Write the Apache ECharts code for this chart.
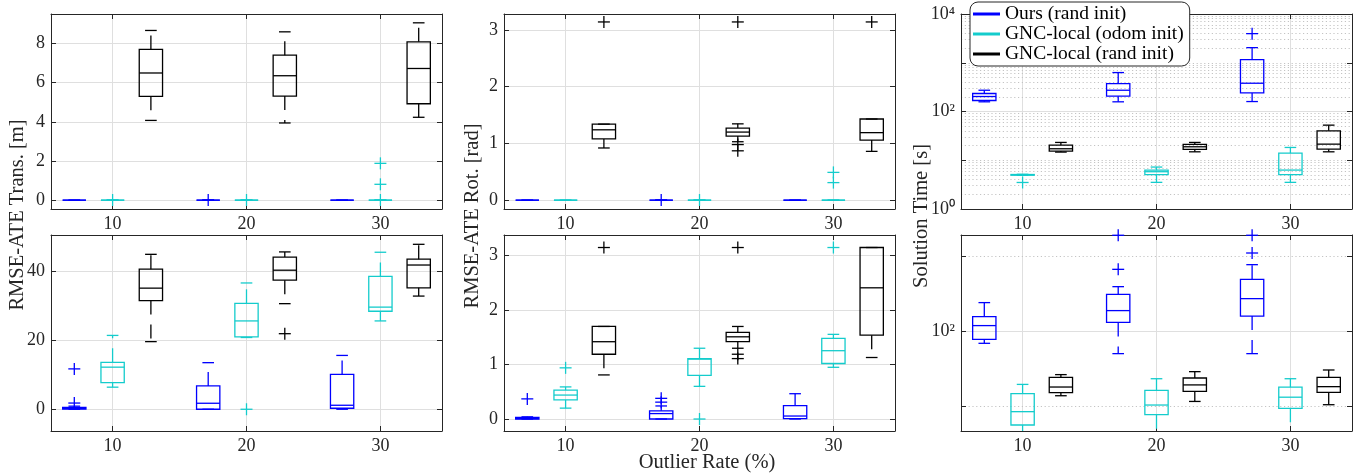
<!DOCTYPE html>
<html>
<head>
<meta charset="utf-8">
<script src="https://cdn.jsdelivr.net/npm/echarts@6/dist/echarts.min.js"></script>
<style>
  html, body { margin: 0; background: #fff; }
  #chart { width: 1369px; height: 476px; }
</style>
</head>
<body>
<div id="chart"></div>
<script>
const methods = ['Ours (rand init)', 'GNC-local (odom init)', 'GNC-local (rand init)'];
const rates = [10, 20, 30];

// box stats, one row per outlier rate (10, 20, 30):
// [lower whisker, q1, median, q3, upper whisker]
// outliers: [rate, value]

// RMSE-ATE Trans. [m], top row
const transTopOurs = [[0, 0, 0, 0, 0], [0, 0, 0, 0, 0], [0, 0, 0, 0, 0]];
const transTopOdom = [[0, 0, 0, 0, 0], [0, 0, 0, 0, 0], [0, 0, 0, 0, 0]];
const transTopRand = [[4.07, 5.30, 6.49, 7.69, 8.66], [3.94, 5.31, 6.35, 7.40, 8.59], [4.23, 4.92, 6.72, 8.08, 9.05]];
const transTopOutOurs = [[20, 0.01]];
const transTopOutOdom = [[10, 0.01], [20, 0.01], [30, 0.01], [30, 0.81], [30, 1.88]];
const transTopOutRand = [];

// RMSE-ATE Rot. [rad], top row
const rotTopOurs = [[0, 0, 0, 0, 0], [0, 0, 0, 0, 0], [0, 0, 0, 0, 0]];
const rotTopOdom = [[0, 0, 0, 0, 0], [0, 0, 0, 0, 0], [0, 0, 0, 0, 0]];
const rotTopRand = [[0.92, 1.08, 1.24, 1.34, 1.34], [1.03, 1.13, 1.20, 1.27, 1.345], [0.86, 1.06, 1.19, 1.43, 1.43]];
const rotTopOutOurs = [[20, 0.003]];
const rotTopOutOdom = [[20, 0.003], [30, 0.31], [30, 0.49]];
const rotTopOutRand = [[10, 3.14], [20, 3.14], [20, 0.98], [20, 0.87], [30, 3.14]];

// Solution Time [s], top row (log)
const timeTopOurs = [[158, 168, 203, 234, 273], [158, 206, 273, 374, 629], [160, 241, 380, 1161, 2043]];
const timeTopOdom = [[4.9, 4.95, 5.0, 5.1, 5.15], [3.52, 5.05, 5.82, 6.29, 7.25], [3.52, 5.05, 6.29, 14.0, 18.3]];
const timeTopRand = [[14.7, 15.4, 17.2, 20.5, 23.2], [14.9, 16.7, 18.9, 21.1, 23.2], [14.9, 16.9, 21.4, 40.2, 52.5]];
const timeTopOutOurs = [[30, 3956]];
const timeTopOutOdom = [[10, 3.5]];
const timeTopOutRand = [];

// RMSE-ATE Trans. [m], bottom row
const transBotOurs = [[0, 0.05, 0.25, 0.55, 0.9], [0, 0, 1.74, 6.76, 13.5], [0, 0.3, 1.16, 10.1, 15.6]];
const transBotOdom = [[6.4, 7.7, 12.2, 13.6, 21.4], [20.8, 21.0, 25.6, 30.7, 36.6], [25.6, 28.4, 29.6, 38.5, 45.5]];
const transBotRand = [[19.6, 31.5, 35.1, 40.6, 44.9], [30.6, 37.4, 40.3, 44.1, 45.6], [32.8, 35.2, 41.8, 43.5, 47.8]];
const transBotOutOurs = [[10, 1.8], [10, 11.7]];
const transBotOutOdom = [[20, 0]];
const transBotOutRand = [[20, 21.9]];

// RMSE-ATE Rot. [rad], bottom row
const rotBotOurs = [[0, 0, 0.01, 0.03, 0.04], [0, 0, 0.10, 0.15, 0.24], [0, 0.006, 0.055, 0.245, 0.465]];
const rotBotOdom = [[0.2, 0.35, 0.44, 0.53, 0.59], [0.6, 0.8, 1.10, 1.11, 1.30], [0.95, 1.02, 1.255, 1.48, 1.555]];
const rotBotRand = [[0.81, 1.19, 1.42, 1.70, 1.70], [1.30, 1.42, 1.51, 1.59, 1.70], [1.13, 1.54, 2.41, 3.15, 3.15]];
const rotBotOutOurs = [[10, 0.37], [20, 0.31], [20, 0.38]];
const rotBotOutOdom = [[10, 0.94], [20, 0], [30, 3.15]];
const rotBotOutRand = [[10, 3.15], [20, 3.15], [20, 1.19], [20, 1.11]];

// Solution Time [s], bottom row (log)
const timeBotOurs = [[68.5, 77.4, 118, 155, 239], [49.9, 130, 187, 308, 390], [49.9, 158, 270, 489, 766]];
const timeBotOdom = [[3, 5.58, 8.4, 14.6, 19.4], [3, 7.66, 10.3, 16.2, 23.1], [3, 9.3, 13.1, 17.8, 23.1]];
const timeBotRand = [[13.7, 15.1, 17.9, 24.1, 26.2], [11.5, 15.7, 19.1, 23.6, 28.7], [10.4, 15.2, 18.1, 24.1, 30.2]];
const timeBotOutOurs = [[20, 664], [20, 1890], [30, 1096], [30, 1890]];
const timeBotOutOdom = [];
const timeBotOutRand = [];

// ---- styling / layout ----
const FONT = 'Liberation Serif';
const INK = '#262626';
const GRID = '#dfdfdf';
const colors = ['#0000ff', '#14cccc', '#000000'];
const shift = [-2.86, 0, 2.86];
const W = 391;

const panels = [
  { box: [transTopOurs, transTopOdom, transTopRand], out: [transTopOutOurs, transTopOutOdom, transTopOutRand],
    left: 51, top: 14, height: 195, min: -0.45, max: 9.5, step: 2 },
  { box: [rotTopOurs, rotTopOdom, rotTopRand], out: [rotTopOutOurs, rotTopOutOdom, rotTopOutRand],
    left: 504, top: 14, height: 195, min: -0.155, max: 3.28, step: 1 },
  { box: [timeTopOurs, timeTopOdom, timeTopRand], out: [timeTopOutOurs, timeTopOutOdom, timeTopOutRand],
    left: 961, top: 14, height: 195, min: 1, max: 10000, log: true, major: [100], minor: 'all' },
  { box: [transBotOurs, transBotOdom, transBotRand], out: [transBotOutOurs, transBotOutOdom, transBotOutRand],
    left: 51, top: 235, height: 196, min: -6.3, max: 50.5, step: 20 },
  { box: [rotBotOurs, rotBotOdom, rotBotRand], out: [rotBotOutOurs, rotBotOutOdom, rotBotOutRand],
    left: 504, top: 235, height: 196, min: -0.22, max: 3.38, step: 1 },
  { box: [timeBotOurs, timeBotOdom, timeBotRand], out: [timeBotOutOurs, timeBotOutOdom, timeBotOutRand],
    left: 961, top: 235, height: 196, min: 4.64, max: 1905, log: true, major: [100], minor: [10, 1000] }
];

// minor log grid: 2..9 x 10^k plus the odd decades
function logMinor() {
  const v = [];
  [1, 10, 100, 1000].forEach(d => {
    for (let k = 2; k <= 9; k++) v.push(k * d);
  });
  return v.concat([10, 1000]);
}

const SUP = { '-1': '⁻¹', 0: '⁰', 1: '¹', 2: '²', 3: '³', 4: '⁴' };
function logLabel(v) {
  const e = Math.round(Math.log10(v));
  if (Math.abs(Math.log10(v) - e) > 1e-6 || e % 2 !== 0) return '';
  return '10' + SUP[e];
}

function drawBox(params, api) {
  const x = api.value(0);
  const color = api.visual('color');
  const y = [1, 2, 3, 4, 5].map(i => api.coord([x, api.value(i)])[1]);
  const cx = api.coord([x, api.value(3)])[0];
  const hw = api.coord([x + 0.87, api.value(3)])[0] - cx;
  const cw = hw / 2;
  const solid = { stroke: color, lineWidth: 1.3, fill: null };
  const dashed = { stroke: color, lineWidth: 1.3, lineDash: [14, 10] };
  return {
    type: 'group',
    children: [
      { type: 'line', shape: { x1: cx, y1: y[3], x2: cx, y2: y[4] }, style: dashed },
      { type: 'line', shape: { x1: cx, y1: y[1], x2: cx, y2: y[0] }, style: dashed },
      { type: 'line', shape: { x1: cx - cw, y1: y[4], x2: cx + cw, y2: y[4] }, style: solid },
      { type: 'line', shape: { x1: cx - cw, y1: y[0], x2: cx + cw, y2: y[0] }, style: solid },
      { type: 'rect', shape: { x: cx - hw, y: y[3], width: 2 * hw, height: y[1] - y[3] },
        style: { stroke: color, fill: 'none', lineWidth: 1.3 } },
      { type: 'line', shape: { x1: cx - hw, y1: y[2], x2: cx + hw, y2: y[2] }, style: solid }
    ]
  };
}

function drawPlus(params, api) {
  const p = api.coord([api.value(0), api.value(1)]);
  const color = api.visual('color');
  const s = 6;
  const st = { stroke: color, lineWidth: 1.3 };
  return {
    type: 'group',
    children: [
      { type: 'line', shape: { x1: p[0] - s, y1: p[1], x2: p[0] + s, y2: p[1] }, style: st },
      { type: 'line', shape: { x1: p[0], y1: p[1] - s, x2: p[0], y2: p[1] + s }, style: st }
    ]
  };
}

const grid = [], xAxis = [], yAxis = [], series = [];
const tickStyle = { inside: true, length: 5, lineStyle: { color: INK } };
const lineStyle = { show: true, onZero: false, lineStyle: { color: INK, width: 1 } };
const labelFont = { color: INK, fontFamily: FONT, fontSize: 18 };

panels.forEach((p, i) => {
  grid.push({ left: p.left, top: p.top, width: W, height: p.height });
  const xBase = {
    gridIndex: i, type: 'value', min: 5.4, max: 34.6, minInterval: 10, maxInterval: 10,
    axisLine: lineStyle, axisTick: tickStyle
  };
  xAxis.push(Object.assign({}, xBase, {
    position: 'bottom',
    axisLabel: Object.assign({ showMinLabel: false, showMaxLabel: false, margin: 6 }, labelFont),
    splitLine: { show: true, lineStyle: { color: GRID } }
  }));
  xAxis.push(Object.assign({}, xBase, { position: 'top', axisLabel: { show: false }, splitLine: { show: false } }));

  const yBase = p.log
    ? { gridIndex: i, type: 'log', logBase: 10, min: p.min, max: p.max }
    : { gridIndex: i, type: 'value', min: p.min, max: p.max, minInterval: p.step, maxInterval: p.step };
  Object.assign(yBase, { axisLine: lineStyle, axisTick: tickStyle });
  yAxis.push(Object.assign({}, yBase, {
    position: 'left',
    axisLabel: p.log
      ? Object.assign({ formatter: logLabel, margin: 6 }, labelFont)
      : Object.assign({ showMinLabel: false, showMaxLabel: false, margin: 6 }, labelFont),
    splitLine: { show: !p.log, lineStyle: { color: GRID } }
  }));
  yAxis.push(Object.assign({}, yBase, { position: 'right', axisLabel: { show: false }, splitLine: { show: false } }));

  if (p.log) {
    const minor = p.minor === 'all' ? logMinor() : p.minor;
    series.push({
      type: 'line', data: [], xAxisIndex: 2 * i, yAxisIndex: 2 * i, silent: true,
      markLine: {
        silent: true, symbol: ['none', 'none'], label: { show: false }, z: 0, animation: false,
        data: p.major.map(v => ({ yAxis: v, lineStyle: { color: GRID, type: 'solid', width: 1 } }))
          .concat(minor.map(v => ({ yAxis: v, lineStyle: { color: '#c4c4c4', type: [1.2, 2.6], width: 1 } })))
      }
    });
  }

  methods.forEach((name, m) => {
    series.push({
      type: 'custom', name, xAxisIndex: 2 * i, yAxisIndex: 2 * i, clip: true,
      itemStyle: { color: colors[m] },
      encode: { x: 0, y: [1, 2, 3, 4, 5] },
      renderItem: drawBox,
      data: p.box[m].map((row, r) => [rates[r] + shift[m]].concat(row))
    });
    series.push({
      type: 'custom', name, xAxisIndex: 2 * i, yAxisIndex: 2 * i, clip: false,
      itemStyle: { color: colors[m] },
      encode: { x: 0, y: 1 },
      renderItem: drawPlus,
      data: p.out[m].map(o => [o[0] + shift[m], o[1]])
    });
  });
});

const nameFont = '20.5px "Liberation Serif"';
const graphic = [
  { type: 'text', x: 18, y: 215, rotation: Math.PI / 2,
    style: { text: 'RMSE-ATE Trans. [m]', font: nameFont, fill: INK, textAlign: 'center', textVerticalAlign: 'middle' } },
  { type: 'text', x: 473, y: 216, rotation: Math.PI / 2,
    style: { text: 'RMSE-ATE Rot. [rad]', font: nameFont, fill: INK, textAlign: 'center', textVerticalAlign: 'middle' } },
  { type: 'text', x: 922, y: 216, rotation: Math.PI / 2,
    style: { text: 'Solution Time [s]', font: nameFont, fill: INK, textAlign: 'center', textVerticalAlign: 'middle' } },
  { type: 'text', x: 707, y: 463,
    style: { text: 'Outlier Rate (%)', font: nameFont, fill: INK, textAlign: 'center', textVerticalAlign: 'middle' } }
];

const chart = echarts.init(document.getElementById('chart'), null, { renderer: 'canvas' });
chart.setOption({
  animation: false,
  backgroundColor: '#fff',
  grid, xAxis, yAxis, series, graphic,
  legend: {
    data: methods, orient: 'vertical', left: 970, top: 2,
    icon: 'rect', itemWidth: 27, itemHeight: 3, itemGap: 0,
    padding: [2, 6, 2, 3],
    backgroundColor: '#fff', borderColor: INK, borderWidth: 1, borderRadius: 8,
    selectedMode: false,
    textStyle: { fontFamily: FONT, fontSize: 19.5, lineHeight: 19.5, color: '#000' }
  }
});
</script>
</body>
</html>
